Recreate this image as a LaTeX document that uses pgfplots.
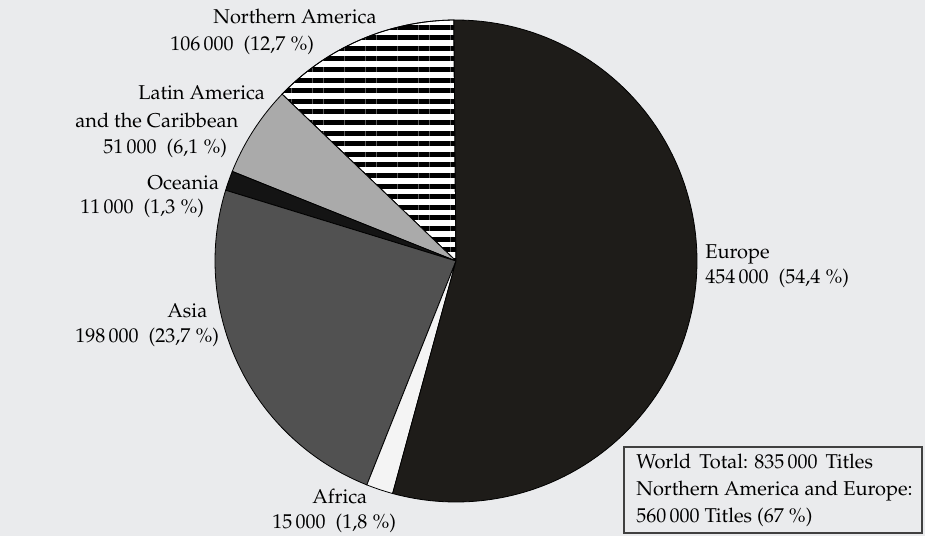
\documentclass[border=0pt]{standalone}
\usepackage[T1]{fontenc}
\usepackage{mathpazo}
\usepackage{pgfplots}
\pgfplotsset{compat=1.18}
\usepgfplotslibrary{polar}
\usetikzlibrary{patterns.meta}
\definecolor{paper}{HTML}{EAEBED}
\definecolor{euro}{HTML}{1E1C19}
\definecolor{asia}{HTML}{515151}
\definecolor{latam}{HTML}{AAAAAA}
\definecolor{ocea}{HTML}{141414}
\definecolor{afr}{HTML}{F4F4F4}
% titles in thousands
\def\vNA{106}\def\vLA{51}\def\vOC{11}\def\vAS{198}\def\vAF{15}\def\vEU{454}
\pgfmathsetmacro\tot{\vNA+\vLA+\vOC+\vAS+\vAF+\vEU}
\pgfmathsetmacro\aA{90.5}
\pgfmathsetmacro\aB{\aA+\vNA/\tot*360}
\pgfmathsetmacro\aC{\aB+\vLA/\tot*360}
\pgfmathsetmacro\aD{\aC+\vOC/\tot*360}
\pgfmathsetmacro\aE{\aD+\vAS/\tot*360}
\pgfmathsetmacro\aF{\aE+\vAF/\tot*360}
\pgfmathsetmacro\aFm{\aF-360}
\newcommand\pc{\hspace{2.6pt}\%}
\begin{document}
\begin{tikzpicture}
\useasboundingbox (0,0) rectangle (462.5pt,268pt);
\fill[paper] (0,0) rectangle (462.5pt,268pt);
\begin{axis}[at={(0,0)}, anchor=south west, width=462.5pt, height=268pt, scale only axis,
  xmin=0, xmax=925, ymin=0, ymax=536, y dir=reverse, hide axis, clip=false]
\node[anchor=base west, inner sep=0pt] at (axis cs:213,23) {Northern America};
\node[anchor=base west, inner sep=0pt] at (axis cs:170,50) {106\,000\hspace{5pt}(12,7\pc)};
\node[anchor=base west, inner sep=0pt] at (axis cs:138,99) {Latin America};
\node[anchor=base west, inner sep=0pt] at (axis cs:75,127) {and the Caribbean};
\node[anchor=base west, inner sep=0pt] at (axis cs:103,153) {51\,000\hspace{5pt}(6,1\pc)};
\node[anchor=base west, inner sep=0pt] at (axis cs:147,189) {Oceania};
\node[anchor=base west, inner sep=0pt] at (axis cs:80,213) {11\,000\hspace{5pt}(1,3\pc)};
\node[anchor=base west, inner sep=0pt] at (axis cs:167,317) {Asia};
\node[anchor=base west, inner sep=0pt] at (axis cs:75,342) {198\,000\hspace{5pt}(23,7\pc)};
\node[anchor=base west, inner sep=0pt] at (axis cs:312,503) {Africa};
\node[anchor=base west, inner sep=0pt] at (axis cs:272,528) {15\,000\hspace{5pt}(1,8\pc)};
\node[anchor=base west, inner sep=0pt] at (axis cs:705,258) {Europe};
\node[anchor=base west, inner sep=0pt] at (axis cs:705,283) {454\,000\hspace{5pt}(54,4\pc)};
\draw[black!75, line width=0.6pt] (axis cs:624,447) rectangle (axis cs:922,533);
\node[anchor=base west, inner sep=0pt] at (axis cs:636,468) {World\hspace{4pt}Total: 835\,000\hspace{4pt}Titles};
\node[anchor=base west, inner sep=0pt] at (axis cs:636,495) {Northern America and Europe:};
\node[anchor=base west, inner sep=0pt] at (axis cs:636,522) {560\,000 Titles (67\pc)};
\end{axis}
\begin{polaraxis}[at={(228pt,137.5pt)}, anchor=center, width=241pt, height=241pt, scale only axis,
  hide axis, ymin=0, ymax=1, xmin=0, xmax=360, clip=false]
% Northern America
\addplot[draw=black, line width=0.4pt, preaction={fill=white},
  pattern={Lines[angle=0,distance=5.3pt,line width=2.5pt]}, domain=\aA:\aB, samples=60] {1} -- (axis cs:0,0) -- cycle;
% Latin America
\addplot[draw=black, line width=0.4pt, fill=latam, domain=\aB:\aC, samples=40] {1} -- (axis cs:0,0) -- cycle;
% Oceania
\addplot[draw=black, line width=0.4pt, fill=ocea, domain=\aC:\aD, samples=10] {1} -- (axis cs:0,0) -- cycle;
% Asia
\addplot[draw=black, line width=0.4pt, fill=asia, domain=\aD:\aE, samples=80] {1} -- (axis cs:0,0) -- cycle;
% Africa
\addplot[draw=black, line width=0.4pt, fill=afr, domain=\aE:\aF, samples=10] {1} -- (axis cs:0,0) -- cycle;
% Europe
\addplot[draw=black, line width=0.4pt, fill=euro, domain=\aFm:\aA, samples=150] {1} -- (axis cs:0,0) -- cycle;
\end{polaraxis}
\end{tikzpicture}
\end{document}
